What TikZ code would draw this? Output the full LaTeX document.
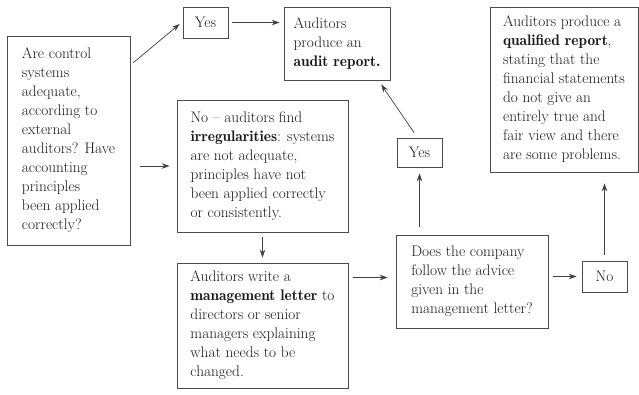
\documentclass[tikz,border=0pt]{standalone}
\usetikzlibrary{arrows.meta}
\newcommand\bt[1]{{\fontseries{b}\selectfont #1}}
\tikzset{
  box/.style={draw=black!70, line width=0.7pt, align=left, inner sep=0pt,
    font=\fontsize{15.3}{19}\selectfont, text=black!90},
  arr/.style={draw=black!75, line width=0.7pt, -{Stealth[length=8pt,width=5.5pt]}}
}
\begin{document}
\begin{tikzpicture}[x=1pt,y=-1pt]
\useasboundingbox[fill=white] (0,0) rectangle (639,394);
\node[box, minimum width=123pt, minimum height=209pt] (A) at (68.5,140.5)
  {Are control\\systems\\adequate,\\according to\\external\\auditors? Have\\accounting\\principles\\been applied\\correctly?};
\node[box, minimum width=45pt, minimum height=31pt] (Y1) at (205.5,22.5) {Yes};
\node[box, minimum width=106pt, minimum height=73pt] (AU) at (337,43.5)
  {Auditors\\produce an\\\bt{audit report.}};
\node[box, minimum width=171pt, minimum height=132pt] (IR) at (262.5,166)
  {No -- auditors find\\\bt{irregularities}: systems\\are not adequate,\\principles have not\\been applied correctly\\or consistently.};
\node[box, minimum width=171pt, minimum height=125pt] (ML) at (262.5,325.5)
  {Auditors write a\\\bt{management letter} to\\directors or senior\\managers explaining\\what needs to be\\changed.};
\node[box, minimum width=152pt, minimum height=93pt] (DO) at (472,281.5)
  {Does the company\\follow the advice\\given in the\\management letter?};
\node[box, minimum width=45pt, minimum height=29pt] (Y2) at (419.5,152.5) {Yes};
\node[box, minimum width=45pt, minimum height=31pt] (N2) at (604.5,276.5) {No};
\node[box, minimum width=148pt, minimum height=165pt] (QU) at (564,89.5)
  {Auditors produce a\\\bt{qualified report},\\stating that the\\financial statements\\do not give an\\entirely true and\\fair view and there\\are some problems.};
% connectors
\draw[arr] ([xshift=3pt,yshift=-27pt]A.north east) -- ([xshift=-3pt,yshift=-1.5pt]Y1.west);
\draw[arr, shorten <=4pt, shorten >=4pt] (Y1.east) -- (AU.west |- Y1.east);
\draw[arr, shorten <=10pt, shorten >=7pt] (A.east |- IR.west) -- (IR.west);
\draw[arr, shorten <=5pt, shorten >=5pt] (IR.south) -- (ML.north);
\draw[arr, shorten <=5pt, shorten >=8pt] ([yshift=4pt]DO.west -| ML.east) -- ([yshift=4pt]DO.west);
\draw[arr, shorten <=8pt, shorten >=6pt] (DO.north -| Y2.south) -- (Y2.south);
\draw[arr, shorten <=6pt, shorten >=5pt] ([xshift=-2pt]Y2.north) -- ([xshift=-12pt]AU.south east);
\draw[arr, shorten <=5pt, shorten >=5pt] (DO.east |- N2.west) -- (N2.west);
\draw[arr, shorten <=6pt, shorten >=11pt] (N2.north) -- (N2.north |- QU.south);
\end{tikzpicture}
\end{document}
